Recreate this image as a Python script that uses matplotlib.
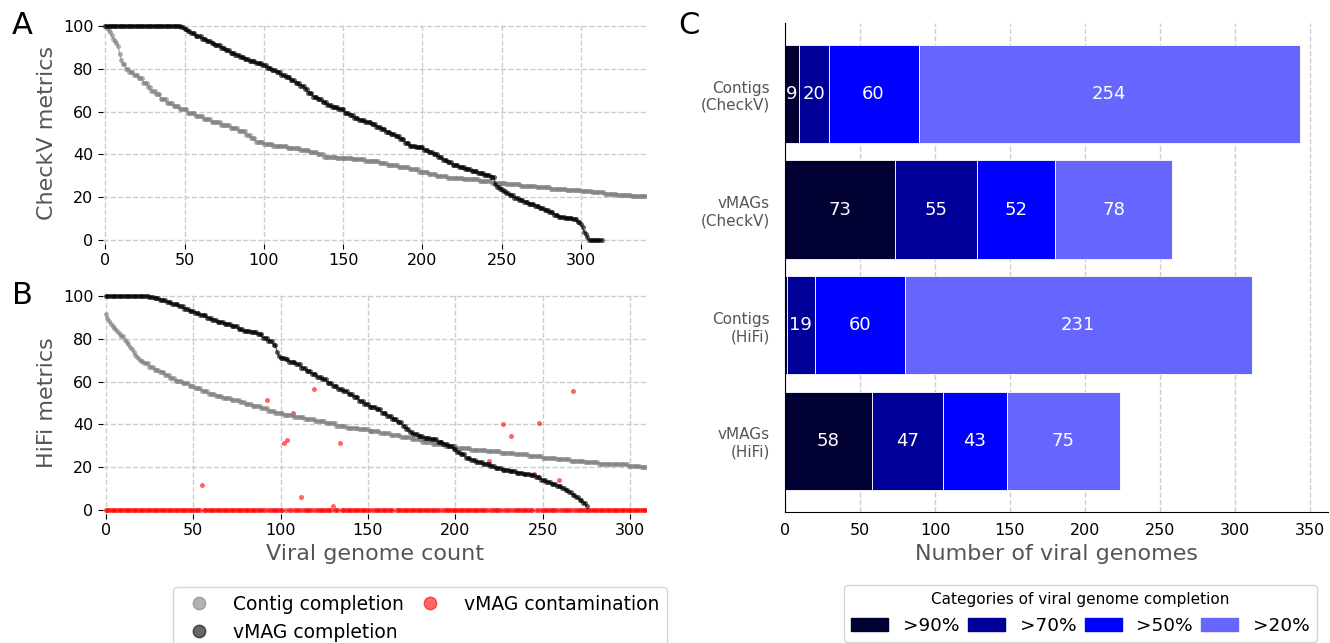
import numpy as np
import matplotlib.pyplot as plt
from matplotlib.lines import Line2D
from matplotlib.patches import Patch

# Completion (%) sorted from high to low, stored as (value, number of genomes) runs
contig_checkv = [
    (100, 1), (99, 1), (98, 1), (97, 1), (95.5, 1), (94, 1), (93, 1), (92, 1), (90.5, 1),
    (87, 1), (84, 1), (82, 2), (80, 2), (78.5, 3), (77, 3), (75.5, 3), (73.5, 3), (71.5, 2),
    (69.5, 3), (68, 3), (66, 4), (64, 4), (62.5, 4), (61, 5), (59.5, 5), (58, 5), (56.5, 5),
    (55, 6), (53.5, 6), (52.5, 5), (51, 5), (49, 3), (47.5, 3), (46, 5), (45, 6), (44, 9),
    (43, 8), (42, 6), (41, 5), (40, 4), (39, 8), (38.3, 10), (37.7, 8), (37, 9), (36, 5),
    (35, 7), (34, 7), (33, 6), (32, 6), (31, 5), (30, 7), (29.2, 10), (28.5, 10), (27.5, 8),
    (26.8, 9), (26, 9), (25.3, 10), (24.6, 9), (24, 10), (23.5, 9), (23, 7), (22.3, 8),
    (21.5, 8), (21, 9), (20.5, 11),
]
vmag_checkv = [
    (100, 48), (99.5, 2), (98.5, 2), (97.5, 2), (96.5, 3), (95, 4), (94, 3), (93, 3), (92, 2),
    (91, 4), (89.5, 3), (88.5, 3), (87.5, 3), (86.5, 3), (85.5, 3), (84.5, 3), (83.5, 4),
    (82.5, 4), (81.5, 3), (80.5, 3), (79.5, 3), (78.5, 3), (77, 3), (76, 3), (74.5, 3),
    (73.5, 3), (72, 3), (70.5, 2), (68.5, 3), (67, 3), (66, 3), (64.5, 3), (63, 3), (62, 4),
    (61, 4), (59.5, 3), (58.5, 3), (57, 3), (56, 4), (55, 4), (54, 3), (53, 3), (52, 3),
    (50.5, 3), (49.5, 3), (48.5, 3), (47, 3), (45.5, 3), (44, 4), (43.3, 5), (42, 3), (41, 3),
    (40, 3), (38.8, 3), (37.5, 3), (36.3, 3), (35.2, 4), (34, 4), (33, 4), (32.3, 4),
    (31.5, 4), (30.5, 4), (29.7, 3), (26, 1), (25, 2), (24, 2), (23, 2), (22, 2), (21, 3),
    (19.8, 3), (19, 3), (18, 3), (17, 4), (16, 3), (15, 3), (14, 3), (13, 3), (12, 3),
    (11, 4), (10.3, 5), (9.7, 3), (8.5, 2), (7.5, 1), (6, 1), (4, 1), (3, 1), (1.5, 1), (0, 9),
]
contig_hifi = [
    (91.5, 1), (89.5, 1), (88, 1), (87, 1), (86, 1), (85, 1), (84, 1), (83, 1), (82, 1),
    (81, 2), (79.5, 1), (78.5, 1), (77.5, 1), (76, 1), (75, 1), (74, 1), (72.5, 1), (71.5, 1),
    (70.5, 1), (69.5, 2), (68.5, 3), (67, 3), (65.5, 3), (64.5, 3), (63, 3), (61.5, 3),
    (60.3, 4), (59.3, 4), (58, 3), (56.8, 4), (55.5, 4), (54.3, 4), (53.3, 4), (52.3, 5),
    (51.3, 5), (50.5, 3), (49.5, 4), (48.5, 5), (47.5, 4), (46.5, 4), (45.5, 5), (44.5, 6),
    (43.5, 6), (42.5, 6), (41.5, 6), (40.5, 6), (39.5, 6), (38.5, 7), (37.8, 6), (37, 6),
    (36, 6), (35, 6), (34, 6), (33, 6), (32, 6), (31, 7), (30, 7), (29, 8), (28.2, 9),
    (27.5, 8), (26.7, 8), (26, 8), (25.2, 8), (24.5, 8), (23.7, 8), (23, 8), (22.4, 8),
    (21.8, 8), (21.4, 9), (20.8, 7), (20.3, 5),
]
vmag_hifi = [
    (100, 25), (99.5, 3), (99, 3), (98, 4), (97, 3), (96, 4), (95, 3), (94, 3), (93, 3),
    (92, 3), (91, 4), (89.5, 3), (88.7, 3), (87.8, 4), (87, 4), (85.8, 4), (84.5, 3),
    (83.5, 4), (83, 4), (82, 3), (80.5, 3), (79, 3), (77, 2), (74, 1), (72, 1), (71, 3),
    (70.3, 2), (69.3, 4), (68, 3), (66.5, 3), (65, 3), (63.5, 3), (62, 3), (61, 3), (59.5, 3),
    (58, 3), (56.5, 3), (55.5, 3), (54, 3), (53, 3), (51, 3), (49.5, 3), (48.3, 4), (47, 3),
    (45.5, 3), (44, 3), (42.5, 3), (41, 3), (39.5, 2), (38, 2), (36.5, 2), (35.5, 3),
    (34.5, 3), (33.7, 4), (33, 4), (32, 3), (31, 3), (30, 3), (28.5, 2), (27, 2), (26, 3),
    (24.5, 3), (23.5, 3), (22.5, 4), (21.5, 4), (20.5, 3), (19.5, 4), (19, 4), (18.3, 4),
    (17.5, 4), (16.8, 4), (16.3, 3), (15.3, 3), (14.3, 3), (13.3, 3), (12.3, 3), (11.3, 3),
    (10.3, 2), (9.3, 2), (8.3, 2), (7.3, 2), (6, 2), (4.8, 2), (3.5, 2), (2, 1),
]

# vMAG contamination (HiFi): every rank is 0 except these
n_contam = 311
contam_rank = [55, 92, 102, 104, 107, 112, 119, 130, 134, 152, 165, 192, 219, 227, 232,
               245, 248, 259, 267]
contam_value = [11.8, 51.2, 31.5, 32.8, 45.2, 6.2, 56.5, 2.0, 31.4, 37.0, 42.4, 31.8,
                23.1, 40.4, 34.8, 16.9, 40.8, 14.3, 55.6]

# Panel C: genomes per completion category
groups = ["Contigs\n(CheckV)", "vMAGs\n(CheckV)", "Contigs\n(HiFi)", "vMAGs\n(HiFi)"]
categories = [">90%", ">70%", ">50%", ">20%"]
gt90 = [9, 73, 1, 58]
gt70 = [20, 55, 19, 47]
gt50 = [60, 52, 60, 43]
gt20 = [254, 78, 231, 75]
cat_colors = ["#000033", "#000099", "#0000ff", "#6666ff"]


def expand(runs):
    return np.repeat([v for v, c in runs], [c for v, c in runs])


def plot_curve(ax, runs, color):
    y = expand(runs)
    ax.plot(np.arange(len(y)), y, marker="o", markersize=3.6, markeredgewidth=0,
            linewidth=1, color=color, alpha=0.6)


def style_metric_ax(ax, xmax, ylabel):
    ax.set_xlim(-1.5, xmax)
    ax.set_ylim(-1.5, 101.5)
    ax.set_xticks(range(0, 301, 50))
    ax.set_yticks(range(0, 101, 20))
    ax.grid(True, linestyle="--", color="#cccccc", linewidth=1)
    ax.set_axisbelow(True)
    for s in ax.spines.values():
        s.set_visible(False)
    ax.tick_params(labelsize=11.5)
    ax.set_ylabel(ylabel, fontsize=16, color="#555555")


W, H = 1330, 643
fig = plt.figure(figsize=(W / 100, H / 100), dpi=100)

axA = fig.add_axes([103 / W, 1 - 243.5 / H, 543 / W, 221 / H])
axB = fig.add_axes([103 / W, 1 - 513.5 / H, 543 / W, 221 / H])
axC = fig.add_axes([785 / W, 1 - 512 / H, 543 / W, 489.3 / H])

# A: CheckV
plot_curve(axA, contig_checkv, "gray")
plot_curve(axA, vmag_checkv, "black")
style_metric_ax(axA, 341, "CheckV metrics")

# B: HiFi
plot_curve(axB, contig_hifi, "gray")
plot_curve(axB, vmag_hifi, "black")
contam = np.zeros(n_contam)
contam[contam_rank] = contam_value
axB.scatter(np.arange(n_contam), contam, s=13, color="red", alpha=0.6, linewidths=0)
style_metric_ax(axB, 309, "HiFi metrics")
axB.set_xlabel("Viral genome count", fontsize=16, color="#555555")

# C: stacked bars
ypos = np.arange(len(groups))
left = np.zeros(len(groups))
for vals, lab, col in zip([gt90, gt70, gt50, gt20], categories, cat_colors):
    bars = axC.barh(ypos, vals, left=left, height=0.85, color=col,
                    edgecolor="white", linewidth=0.6, label=lab)
    axC.bar_label(bars, labels=[str(v) if v >= 5 else "" for v in vals],
                  label_type="center", color="white", fontsize=13)
    left += np.array(vals)
axC.set_yticks(ypos)
axC.set_yticklabels(groups, color="#555555")
axC.invert_yaxis()
axC.set_xlim(0, 362)
axC.set_xticks(range(0, 351, 50))
axC.grid(True, axis="x", linestyle="--", color="#cccccc", linewidth=1)
axC.set_axisbelow(True)
axC.spines["top"].set_visible(False)
axC.spines["right"].set_visible(False)
axC.tick_params(length=0, labelsize=11.5)
axC.tick_params(axis="y", pad=11, labelsize=11)
axC.tick_params(axis="x", pad=8)
axC.set_xlabel("Number of viral genomes", fontsize=16, color="#555555")

# panel letters
fig.text(12 / W, 1 - 11 / H, "A", fontsize=22, va="top")
fig.text(12 / W, 1 - 281 / H, "B", fontsize=22, va="top")
fig.text(678 / W, 1 - 11 / H, "C", fontsize=22, va="top")

# legends
pt_handles = [
    Line2D([], [], marker="o", ls="", color="gray", alpha=0.6, markersize=9),
    Line2D([], [], marker="o", ls="", color="black", alpha=0.6, markersize=9),
    Line2D([], [], marker="o", ls="", color="red", alpha=0.6, markersize=9),
]
fig.legend(pt_handles, ["Contig completion", "vMAG completion", "vMAG contamination"],
           loc="upper left", bbox_to_anchor=(173 / W, 1 - 587 / H), ncol=2,
           fontsize=13.5, columnspacing=0.4, borderaxespad=0)

bar_handles = [Patch(color=c) for c in cat_colors]
fig.legend(bar_handles, categories, loc="upper left",
           bbox_to_anchor=(844 / W, 1 - 585 / H), ncol=4, fontsize=13.3,
           title="Categories of viral genome completion", title_fontsize=11,
           columnspacing=0.45, borderaxespad=0)

fig.savefig("out.png", dpi=100)
